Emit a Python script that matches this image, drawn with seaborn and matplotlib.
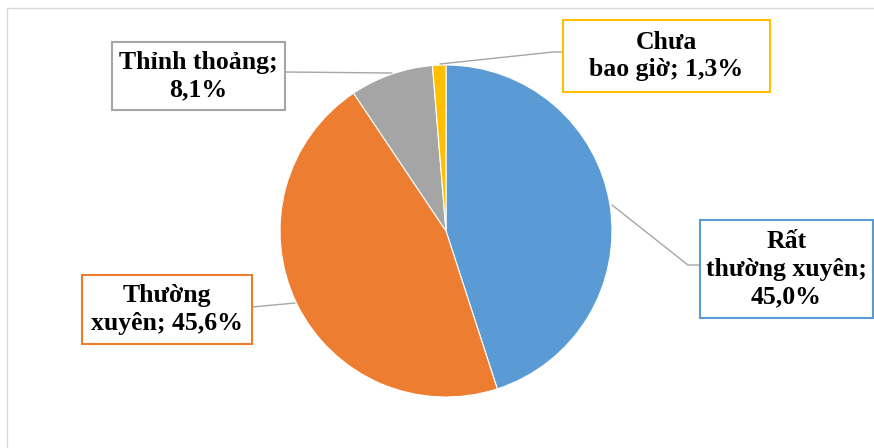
import matplotlib.pyplot as plt
import seaborn as sns
from matplotlib.patches import Rectangle

# data (clockwise from 12 o'clock)
labels = ["Rất\nthường xuyên;\n45,0%", "Thường\nxuyên; 45,6%", "Thỉnh thoảng;\n8,1%", "Chưa\nbao giờ; 1,3%"]
values = [45.0, 45.6, 8.1, 1.3]
colors = ["#5B9BD5", "#ED7D31", "#A5A5A5", "#FFC000"]

sns.set_theme(style="white")
plt.rcParams['font.family'] = ['Liberation Serif', 'DejaVu Serif']

W, H = 874, 448
fig = plt.figure(figsize=(W / 100, H / 100), dpi=100)
ax = fig.add_axes([0, 0, 1, 1])

def py(y):
    # pixel row -> data y
    return H - y

# chart frame
ax.add_patch(Rectangle((7, py(H + 10)), W, H + 2, fill=False, ec="#D9D9D9", lw=1))

cx, cy, r = 446, 231, 166
ax.pie(values, colors=colors, startangle=90, counterclock=False,
       center=(cx, py(cy)), radius=r, frame=True,
       wedgeprops=dict(edgecolor="white", linewidth=0.8))
ax.set_xlim(0, W)
ax.set_ylim(0, H)
ax.set_aspect('equal')
ax.axis('off')

# label boxes: centre x, centre y, width, height (pixels)
boxes = [(786.5, 269, 173, 98), (167, 309.5, 170, 69), (198.5, 76, 173, 68), (666.5, 56, 207, 72)]
leaders = [
    [(612, 205), (688, 265), (700, 265)],
    [(295, 303), (252, 307)],
    [(392, 73), (285, 72)],
    [(440, 64), (553, 52), (563, 52)],
]

for lab, col, (bx, by, bw, bh), pts in zip(labels, colors, boxes, leaders):
    xs = [p[0] for p in pts]
    ys = [py(p[1]) for p in pts]
    ax.plot(xs, ys, color="#A6A6A6", lw=1, zorder=3)
    ax.add_patch(Rectangle((bx - bw / 2, py(by + bh / 2)), bw, bh,
                           fc="white", ec=col, lw=1.5, zorder=4))
    ax.text(bx, py(by), lab, ha="center", va="center", fontsize=18.5,
            fontweight="bold", color="black", linespacing=1.25, zorder=5)

fig.savefig("out.png", dpi=100)
